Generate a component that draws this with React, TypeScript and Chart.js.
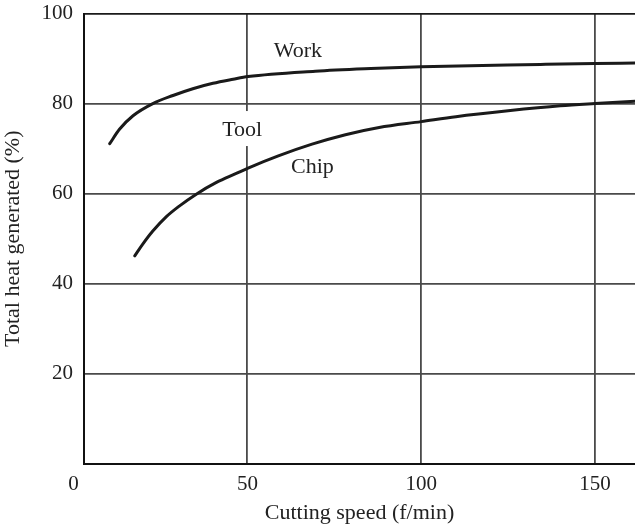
import React, { useEffect, useRef } from "react";
import { Chart, registerables } from "chart.js";

Chart.register(...registerables);

// Tick values / labels
const xTickValues = [0, 50, 100, 150];
const xTickLabels = ["0", "50", "100", "150"];
const yTickValues = [20, 40, 60, 80, 100];
const yTickLabels = ["20", "40", "60", "80", "100"];

// Upper curve: boundary between Work and Tool
const upperX = [10.4, 13.2, 17.1, 22.8, 28.6, 34.3, 40.1, 45.9, 50.2, 69.5, 85.5, 100.0, 134.3, 150.0, 161.5];
const upperY = [71.1, 74.3, 77.3, 80.0, 81.8, 83.3, 84.5, 85.4, 86.0, 87.2, 87.8, 88.2, 88.7, 88.9, 89.0];

// Lower curve: boundary between Tool and Chip
const lowerX = [17.6, 19.9, 22.8, 26.7, 30.5, 35.3, 41.1, 46.8, 50.2, 58.9, 68.6, 78.2, 87.9, 100.0, 110.0, 125.0, 140.0, 150.0, 161.5];
const lowerY = [46.2, 48.8, 51.7, 54.9, 57.3, 59.9, 62.5, 64.5, 65.7, 68.4, 71.0, 73.1, 74.7, 76.0, 77.1, 78.4, 79.5, 80.0, 80.5];

// Region labels (baseline anchored)
const regionTexts = ["Work", "Tool", "Chip"];
const regionX = [64.5, 48.5, 68.7];
const regionY = [90.4, 72.8, 64.6];
const regionMasked = [false, true, false];

const FONT = '"Liberation Serif", "DejaVu Serif", serif';

const regionPlugin = {
  id: "regionLabels",
  beforeDatasetsDraw(chart: any) {
    const { ctx, scales } = chart;
    const xs = scales.x;
    const ys = scales.y;
    ctx.save();
    ctx.font = `22px ${FONT}`;
    ctx.textAlign = "center";
    ctx.textBaseline = "alphabetic";
    regionTexts.forEach((t, i) => {
      const px = xs.getPixelForValue(regionX[i]);
      const py = ys.getPixelForValue(regionY[i]);
      if (regionMasked[i]) {
        const w = ctx.measureText(t).width;
        ctx.fillStyle = "#ffffff";
        ctx.fillRect(px - w / 2 - 2, py - 25, w + 4, 35);
      }
      ctx.fillStyle = "#222";
      ctx.fillText(t, px, py);
    });
    ctx.restore();
  },
};

export default function App() {
  const canvasRef = useRef<HTMLCanvasElement | null>(null);

  useEffect(() => {
    if (!canvasRef.current) return;
    const chart = new Chart(canvasRef.current, {
      type: "line",
      data: {
        datasets: [
          {
            label: "Work/Tool",
            data: upperX.map((x, i) => ({ x, y: upperY[i] })),
            borderColor: "#1a1a1a",
            borderWidth: 3,
            borderCapStyle: "round",
            pointRadius: 0,
            cubicInterpolationMode: "monotone",
            fill: false,
          },
          {
            label: "Tool/Chip",
            data: lowerX.map((x, i) => ({ x, y: lowerY[i] })),
            borderColor: "#1a1a1a",
            borderWidth: 3,
            borderCapStyle: "round",
            pointRadius: 0,
            cubicInterpolationMode: "monotone",
            fill: false,
          },
        ],
      },
      options: {
        responsive: false,
        animation: false,
        devicePixelRatio: 1,
        layout: { padding: { top: 13.5, right: 0, bottom: 0, left: 0 } },
        plugins: {
          legend: { display: false },
          tooltip: { enabled: false },
        },
        scales: {
          x: {
            type: "linear",
            min: 3,
            max: 161.5,
            afterBuildTicks: (scale: any) => {
              scale.ticks = xTickValues.map((v) => ({ value: v }));
            },
            afterFit: (scale: any) => {
              scale.height = 65;
              scale.paddingLeft = 0;
              scale.paddingRight = 0;
            },
            grid: {
              color: (c: any) => (c.tick && c.tick.value === 0 ? "rgba(0,0,0,0)" : "#4a4a4a"),
              lineWidth: 1.8,
              drawTicks: false,
            },
            border: { display: true, color: "#111", width: 2 },
            ticks: {
              autoSkip: false,
              maxRotation: 0,
              padding: 8,
              color: "#222",
              font: { family: FONT, size: 21 },
              callback: (_v: any, i: number) => xTickLabels[i],
            },
            title: {
              display: true,
              text: "Cutting speed (f/min)",
              color: "#222",
              font: { family: FONT, size: 22 },
              padding: { top: 0, bottom: 3 },
            },
          },
          y: {
            type: "linear",
            min: 0,
            max: 100,
            afterBuildTicks: (scale: any) => {
              scale.ticks = yTickValues.map((v) => ({ value: v }));
            },
            afterFit: (scale: any) => {
              scale.width = 84;
              scale.paddingTop = 0;
              scale.paddingBottom = 0;
            },
            grid: {
              color: (c: any) => (c.tick && c.tick.value === 100 ? "#1a1a1a" : "#4a4a4a"),
              lineWidth: 1.8,
              drawTicks: false,
            },
            border: { display: true, color: "#111", width: 2 },
            ticks: {
              autoSkip: false,
              padding: 11,
              color: "#222",
              font: { family: FONT, size: 21 },
              callback: (_v: any, i: number) => yTickLabels[i],
            },
            title: {
              display: true,
              text: "Total heat generated (%)",
              color: "#222",
              font: { family: FONT, size: 22 },
              padding: { top: 0, bottom: 0 },
            },
          },
        },
      },
      plugins: [regionPlugin],
    } as any);
    return () => chart.destroy();
  }, []);

  return (
    <div style={{ position: "absolute", left: 0, top: 0, width: 635, height: 529, background: "#fff" }}>
      <canvas ref={canvasRef} width={635} height={529} style={{ display: "block", width: 635, height: 529 }} />
    </div>
  );
}
